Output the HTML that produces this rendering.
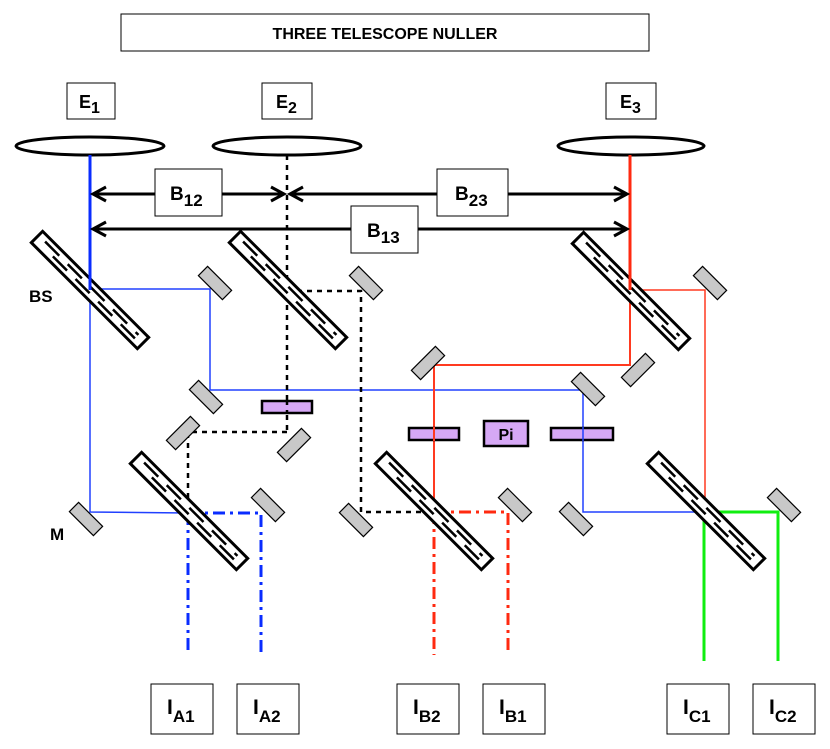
<!DOCTYPE html>
<html><head><style>
html,body{margin:0;padding:0;background:#fff;}
svg{display:block;font-family:"Liberation Sans",Arial,sans-serif;font-weight:bold;}
</style></head><body>
<svg width="830" height="749" viewBox="0 0 830 749" xmlns="http://www.w3.org/2000/svg">
<defs>
<g id="bs">
<rect x="-75" y="-8" width="150" height="16" fill="#fff" stroke="#000" stroke-width="3"/>
<line x1="-66" y1="-2.5" x2="66" y2="-2.5" stroke="#000" stroke-width="2.5" stroke-dasharray="20,12"/>
<line x1="-50" y1="2.5" x2="66" y2="2.5" stroke="#000" stroke-width="2.5" stroke-dasharray="20,12"/>
</g>
<rect id="m" x="-17" y="-6.5" width="34" height="13" fill="#c8c8c8" stroke="#000" stroke-width="1.2"/>
</defs>
<rect x="121" y="14" width="528" height="37" fill="#fff" stroke="#000" stroke-width="1"/>
<text x="385" y="39" font-size="16" text-anchor="middle">THREE TELESCOPE NULLER</text>
<rect x="67" y="83" width="48" height="36" fill="#fff" stroke="#000" stroke-width="1"/>
<text x="79" y="108" font-size="18">E<tspan font-size="16" dy="5">1</tspan></text>
<rect x="262" y="83" width="50" height="36" fill="#fff" stroke="#000" stroke-width="1"/>
<text x="276" y="108" font-size="18">E<tspan font-size="16" dy="5">2</tspan></text>
<rect x="606" y="83" width="50" height="36" fill="#fff" stroke="#000" stroke-width="1"/>
<text x="620" y="108" font-size="18">E<tspan font-size="16" dy="5">3</tspan></text>
<ellipse cx="90" cy="146" rx="74" ry="9" fill="#fff" stroke="#000" stroke-width="3"/>
<ellipse cx="287" cy="146" rx="74" ry="9" fill="#fff" stroke="#000" stroke-width="3"/>
<ellipse cx="631" cy="146" rx="73" ry="9" fill="#fff" stroke="#000" stroke-width="3"/>

<g fill="none">
<line x1="90" y1="155" x2="90" y2="290" stroke="#0a2cff" stroke-width="3"/>
<polyline points="90,290 90,512 188,513" stroke="#2040ff" stroke-width="1.5"/>
<polyline points="90,289 210,289 210,390 583,390 583,512 706,512" stroke="#2040ff" stroke-width="1.5"/>
<line x1="630" y1="155" x2="630" y2="290" stroke="#ff2a10" stroke-width="3"/>
<polyline points="630,290 630,365 434,365 434,512" stroke="#ff3a20" stroke-width="2"/>
<polyline points="630,290 705,290 705,512" stroke="#ff3a20" stroke-width="1.5"/>
<g stroke="#000" stroke-width="2.5" stroke-dasharray="5,5">
<line x1="287" y1="155" x2="287" y2="432"/>
<polyline points="287,291 361,291 361,512 434,512"/>
<polyline points="287,432 188,432 188,512"/>
</g>
<g stroke="#0a2cff" stroke-width="3" stroke-dasharray="12,5,3,5">
<polyline points="188,513 261,513 261,655"/>
<line x1="188" y1="513" x2="188" y2="655"/>
</g>
<g stroke="#ff2a10" stroke-width="3" stroke-dasharray="12,5,3,5">
<polyline points="434,512 508,512 508,655"/>
<line x1="434" y1="512" x2="434" y2="655"/>
</g>
<g stroke="#10ee10" stroke-width="3">
<polyline points="704,512 778,512 778,661"/>
<line x1="704" y1="512" x2="704" y2="661"/>
</g>
</g>

<use href="#bs" transform="translate(90,290) rotate(45)"/>
<use href="#bs" transform="translate(288,290) rotate(45)"/>
<use href="#bs" transform="translate(631,291) rotate(45)"/>
<use href="#bs" transform="translate(189,511) rotate(45)"/>
<use href="#bs" transform="translate(434,511) rotate(45)"/>
<use href="#bs" transform="translate(706,511) rotate(45)"/>

<g fill="none">
<line x1="90" y1="270" x2="90" y2="290" stroke="#0a2cff" stroke-width="3"/>
<line x1="630" y1="270" x2="630" y2="290" stroke="#ff2a10" stroke-width="3"/>
</g>

<use href="#m" transform="translate(215,283) rotate(45)"/>
<use href="#m" transform="translate(366,283) rotate(45)"/>
<use href="#m" transform="translate(710,283) rotate(45)"/>
<use href="#m" transform="translate(428,363) rotate(-45)"/>
<use href="#m" transform="translate(638,370) rotate(-45)"/>
<use href="#m" transform="translate(588,389) rotate(45)"/>
<use href="#m" transform="translate(206,397) rotate(45)"/>
<use href="#m" transform="translate(183,433) rotate(-45)"/>
<use href="#m" transform="translate(294,445) rotate(-45)"/>
<use href="#m" transform="translate(268,505) rotate(45)"/>
<use href="#m" transform="translate(86,519) rotate(45)"/>
<use href="#m" transform="translate(356,520) rotate(45)"/>
<use href="#m" transform="translate(515,505) rotate(45)"/>
<use href="#m" transform="translate(576,519) rotate(45)"/>
<use href="#m" transform="translate(784,505) rotate(45)"/>

<g fill="#d6a8f5" stroke="#000" stroke-width="2.5">
<rect x="262" y="401" width="50" height="12"/>
<rect x="409" y="428" width="50" height="12"/>
<rect x="484" y="421" width="44" height="25"/>
<rect x="551" y="428" width="62" height="12"/>
</g>
<line x1="287" y1="400" x2="287" y2="414" stroke="#000" stroke-width="2.5" stroke-dasharray="5,5"/>
<line x1="434" y1="427" x2="434" y2="441" stroke="#ff3a20" stroke-width="2"/>
<line x1="583" y1="427" x2="583" y2="441" stroke="#2040ff" stroke-width="1.5"/>
<text x="506" y="440" font-size="16" text-anchor="middle">Pi</text>

<g stroke="#000" stroke-width="3" fill="none">
<line x1="93" y1="194" x2="284" y2="194"/>
<line x1="290" y1="194" x2="627" y2="194"/>
<line x1="93" y1="229" x2="627" y2="229"/>
<polyline points="106,187 93,194 106,201"/>
<polyline points="271,187 284,194 271,201"/>
<polyline points="303,187 290,194 303,201"/>
<polyline points="614,187 627,194 614,201"/>
<polyline points="106,222 93,229 106,236"/>
<polyline points="614,222 627,229 614,236"/>
</g>
<g fill="#fff" stroke="#000" stroke-width="1">
<rect x="155" y="169" width="67" height="47"/>
<rect x="437" y="169" width="71" height="47"/>
<rect x="351" y="206" width="67" height="47"/>
</g>
<text x="170" y="200" font-size="19">B<tspan font-size="17" dy="6">12</tspan></text>
<text x="455" y="200" font-size="19">B<tspan font-size="17" dy="6">23</tspan></text>
<text x="367" y="237" font-size="19">B<tspan font-size="17" dy="6">13</tspan></text>

<text x="29" y="302" font-size="17">BS</text>
<text x="50" y="540" font-size="17">M</text>

<g fill="#fff" stroke="#000" stroke-width="1">
<rect x="151" y="684" width="62" height="50"/>
<rect x="237" y="684" width="62" height="50"/>
<rect x="397" y="684" width="62" height="50"/>
<rect x="483" y="684" width="62" height="50"/>
<rect x="667" y="684" width="62" height="50"/>
<rect x="753" y="684" width="62" height="50"/>
</g>
<g font-size="21">
<text x="167" y="714">I<tspan font-size="17" dy="8">A1</tspan></text>
<text x="253" y="714">I<tspan font-size="17" dy="8">A2</tspan></text>
<text x="413" y="714">I<tspan font-size="17" dy="8">B2</tspan></text>
<text x="499" y="714">I<tspan font-size="17" dy="8">B1</tspan></text>
<text x="683" y="714">I<tspan font-size="17" dy="8">C1</tspan></text>
<text x="769" y="714">I<tspan font-size="17" dy="8">C2</tspan></text>
</g>
</svg>
</body></html>
